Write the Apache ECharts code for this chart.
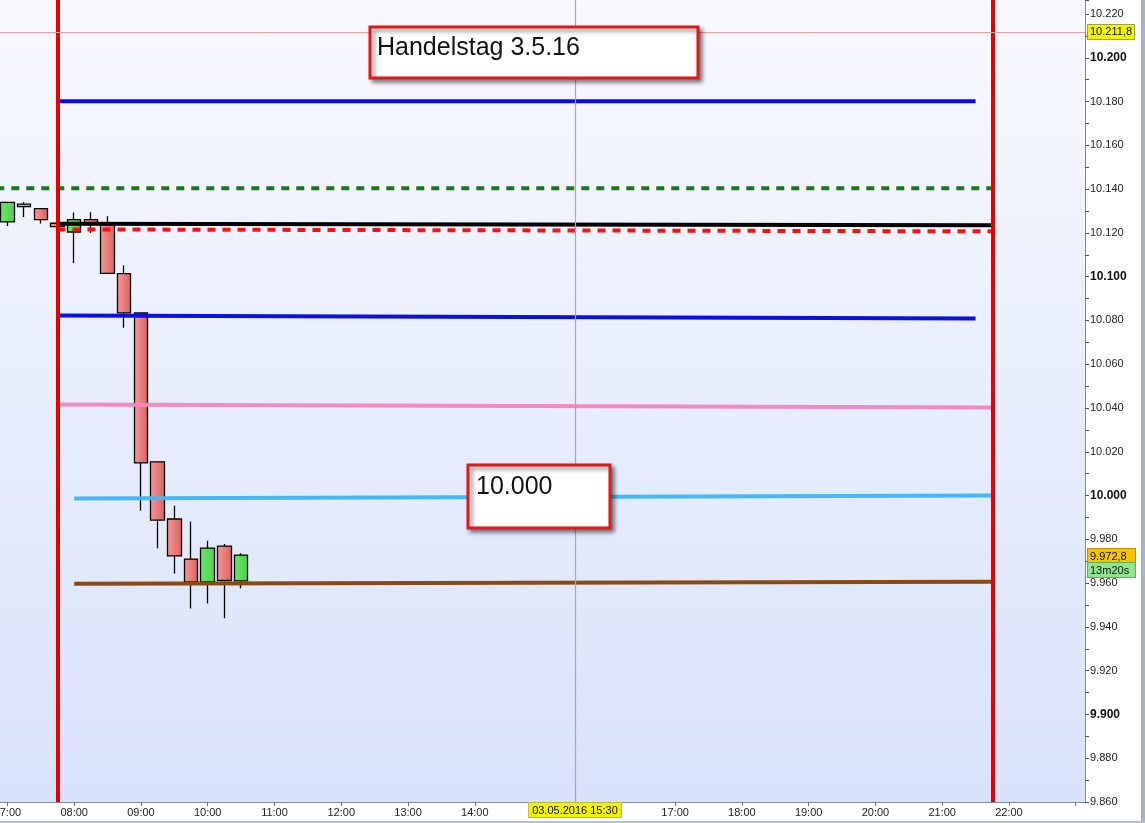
<!DOCTYPE html>
<html><head><meta charset="utf-8">
<script src="https://cdn.jsdelivr.net/npm/echarts@6/dist/echarts.min.js"></script>
<style>html,body{margin:0;padding:0;background:#fff}#c{width:1145px;height:823px}</style>
</head><body><div id="c"></div>
<script>
// ---- data ----
const candleTimes = ['07:00','07:15','07:30','07:45','08:00','08:15','08:30','08:45','09:00','09:15','09:30','09:45','10:00','10:15','10:30'];
const opens  = [10125.0,10132.0,10131.1,10124.4,10120.4,10126.1,10123.9,10101.4,10083.4,10015.4,9989.3,9971.0,9960.5,9976.9,9961.0];
const closes = [10133.9,10133.1,10126.1,10122.9,10126.1,10124.3,10101.5,10083.5,10014.9,9988.8,9972.4,9960.5,9976.0,9961.2,9972.8];
const lows   = [10123.2,10127.3,10124.3,10122.9,10106.2,10120.0,10101.5,10076.7,9993.1,9975.9,9964.4,9948.4,9950.7,9944.0,9957.6];
const highs  = [10134.0,10134.0,10131.1,10124.4,10129.3,10129.4,10127.6,10105.2,10083.4,10015.4,9995.4,9988.1,9979.4,9977.9,9973.7];

const lineBlueTop   = [['07:45',10180.1],['21:30',10180.1]];
const lineGreenDash = [['06:50',10140.4],['21:45',10140.4]];
const lineBlack     = [['07:45',10124.2],['21:45',10123.5]];
const lineRedDash   = [['07:45',10121.6],['21:45',10120.7]];
const lineBlueMid   = [['07:45',10082.3],['21:30',10080.9]];
const linePink      = [['07:45',10041.6],['21:45',10040.2]];
const lineLightBlue = [['08:00',9998.6],['21:45',10000.0]];
const lineBrown     = [['08:00',9959.7],['21:45',9960.6]];

const sessionMarks = ['07:45','21:45'];
const crossTime = '15:30';
const crossPrice = 10211.8;
const lastPrice = 9972.8;
const timerText = '13m20s';
const dateLabel = '03.05.2016 15:30';
const axisStart = '06:53:21';
const axisEnd = '23:08:20';
const lastHourLabel = 22;
const yMin = 9860, yMax = 10226.4, yStep = 20;

// ---- helpers ----
const tm = s => { const p = s.split(':').map(Number); return new Date(2016,4,3,p[0],p[1],p[2]||0).getTime(); };
const fmtPrice = v => { const s = Math.round(v).toString(); return s.slice(0,-3)+'.'+s.slice(-3); };
const fmtDec = v => { const i = Math.floor(v); const d = Math.round((v-i)*10); return fmtPrice(i)+','+d; };
const toLine = arr => arr.map(p => [tm(p[0]), p[1]]);
const pad2 = n => (n<10?'0':'')+n;

const chart = echarts.init(document.getElementById('c'), null, {renderer:'canvas'});
const G = echarts.graphic.LinearGradient;

function trend(name, data, color, width, dashed){
  return {
    name, type:'line', data: toLine(data), symbol:'none', z: 5,
    lineStyle:{color, width, type: dashed ? [8,7] : 'solid', cap:'butt'},
    silent:true
  };
}

const option = {
  animation:false,
  backgroundColor:'#ffffff',
  grid:{left:0, right:60, top:0, bottom:21, show:true, borderWidth:0, containLabel:false, outerBoundsMode:'none',
    backgroundColor: new G(0,0,0,1,[{offset:0,color:'#f8f9ff'},{offset:1,color:'#d8e2fa'}])},
  xAxis:{
    type:'time', min: tm(axisStart), max: tm(axisEnd),
    minInterval:3600000, maxInterval:3600000,
    axisLine:{show:true, lineStyle:{color:'#7d8c9c', width:1}},
    axisTick:{show:true, length:4, lineStyle:{color:'#6a7580'}},
    axisLabel:{color:'#222', fontSize:11, fontFamily:'Arial', margin:5, hideOverlap:false,
      formatter: v => { const d = new Date(v); const h = d.getHours(); return h > lastHourLabel ? '' : pad2(h)+':'+pad2(d.getMinutes()); }},
    splitLine:{show:false}
  },
  yAxis:{
    type:'value', position:'right', min:yMin, max:yMax, interval:yStep, scale:true,
    axisLine:{show:true, lineStyle:{color:'#7d8c9c', width:1}},
    axisTick:{show:true, length:4, lineStyle:{color:'#555'}},
    minorTick:{show:true, splitNumber:2, length:4, lineStyle:{color:'#555'}},
    axisLabel:{showMaxLabel:false, margin:5, color:'#222', fontFamily:'Arial',
      formatter: v => (Math.round(v)%100===0 ? '{b|'+fmtPrice(v)+'}' : '{n|'+fmtPrice(v)+'}'),
      rich:{b:{fontWeight:'bold', fontSize:12, fontFamily:'Arial', color:'#111'}, n:{fontSize:11, fontFamily:'Arial', color:'#222'}}},
    splitLine:{show:false}
  },
  series:[
    {
      type:'candlestick', z:2, barWidth:14,
      data: candleTimes.map((t,i)=>[tm(t), opens[i], closes[i], lows[i], highs[i]]),
      itemStyle:{
        color: new G(0,0,1,0,[{offset:0,color:'#6ae66a'},{offset:1,color:'#4cd24c'}]),
        color0: new G(0,0,1,0,[{offset:0,color:'#f59a9a'},{offset:1,color:'#dd6060'}]),
        borderColor:'#000', borderColor0:'#000', borderWidth:1.3
      },
      markLine:{
        silent:true, symbol:['none','none'], z:6,
        data:[
          {xAxis: tm(sessionMarks[0]), lineStyle:{color:'#e60000', width:4, type:'solid'}, label:{show:false}},
          {xAxis: tm(sessionMarks[1]), lineStyle:{color:'#e60000', width:4, type:'solid'}, label:{show:false}},
          {xAxis: tm(crossTime), lineStyle:{color:'#f08a98', width:1.2, type:'solid'},
            label:{show:true, position:'start', formatter:dateLabel, distance:1, color:'#111', fontSize:11, fontFamily:'Arial',
              backgroundColor:'#f4f400', borderColor:'#b8b840', borderWidth:1, padding:[2,3,1,3]}},
          {yAxis: crossPrice, lineStyle:{color:'#f29aa2', width:1, type:'solid'},
            label:{show:true, position:'end', formatter:fmtDec(crossPrice), distance:3, color:'#111', fontSize:11, fontFamily:'Arial',
              backgroundColor:'#f4f400', borderColor:'#a0a040', borderWidth:1, padding:[2,2,1,2]}},
          {yAxis: lastPrice, lineStyle:{color:'rgba(0,0,0,0)', width:1, type:'solid'},
            label:{show:true, position:'end', distance:3, offset:[0,8],
              formatter:'{a|'+fmtDec(lastPrice)+'}\n{t|'+timerText+'}',
              rich:{
                a:{color:'#111', fontSize:11, fontFamily:'Arial', backgroundColor:'#f5c400', borderColor:'#c09000', borderWidth:1, padding:[2,2,1,2], width:43},
                t:{color:'#111', fontSize:11, fontFamily:'Arial', backgroundColor:'#8ee68e', borderColor:'#60b060', borderWidth:1, padding:[2,2,1,2], width:43}
              }}}
        ]
      }
    },
    trend('blueTop', lineBlueTop, '#0808e8', 4, false),
    trend('greenDash', lineGreenDash, '#167a16', 4, true),
    trend('black', lineBlack, '#000000', 4, false),
    trend('redDash', lineRedDash, '#ff1010', 4, true),
    trend('blueMid', lineBlueMid, '#0a10e0', 4, false),
    trend('pink', linePink, '#f488c0', 4, false),
    trend('lightBlue', lineLightBlue, '#44b8f4', 4, false),
    trend('brown', lineBrown, '#8a4a14', 4, false)
  ],
  graphic:[
    {type:'rect', z:100, shape:{x:1141, y:0, width:4, height:823}, style:{fill:'#a3b4c4'}},
    {type:'rect', z:100, shape:{x:0, y:821, width:1145, height:2}, style:{fill:'#b4c0cc'}},
    {type:'rect', z:90, shape:{x:370, y:27, width:328, height:51},
      style:{fill:'#fff', stroke:'#e01818', lineWidth:3, shadowBlur:4, shadowOffsetX:3, shadowOffsetY:3, shadowColor:'rgba(0,0,0,0.45)'}},
    {type:'text', z:91, style:{text:'Handelstag 3.5.16', x:377, y:48, fill:'#111', font:'25px Arial', verticalAlign:'middle'}},
    {type:'rect', z:90, shape:{x:468, y:465, width:142, height:63},
      style:{fill:'#fff', stroke:'#e01818', lineWidth:3, shadowBlur:4, shadowOffsetX:3, shadowOffsetY:3, shadowColor:'rgba(0,0,0,0.45)'}},
    {type:'text', z:91, style:{text:'10.000', x:476, y:487, fill:'#111', font:'25px Arial', verticalAlign:'middle'}}
  ]
};
chart.setOption(option);
</script>
</body></html>
